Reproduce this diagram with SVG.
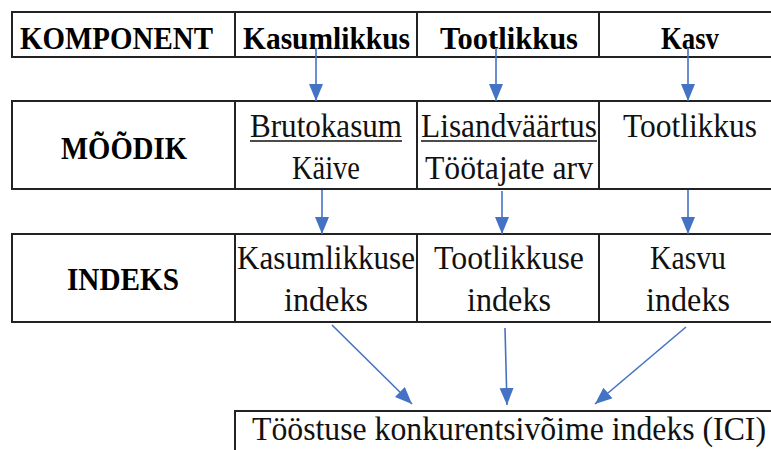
<svg xmlns="http://www.w3.org/2000/svg" width="771" height="450" viewBox="0 0 771 450">
  <style>
    .cell { fill: #ffffff; stroke: #222222; stroke-width: 2; }
    .hb { font-family: 'Liberation Serif', 'Times New Roman', serif; font-weight: 700; font-size: 31px; fill: #000; text-anchor: middle; }
    .tx { font-family: 'Liberation Serif', 'Times New Roman', serif; font-weight: 400; font-size: 34px; fill: #111; text-anchor: middle; }
    .ul { stroke: #111; stroke-width: 1.5; }
    .arr { stroke: #4472C4; stroke-width: 1.6; fill: none; marker-end: url(#ah); }
  </style>
  <defs>
    <marker id="ah" markerUnits="userSpaceOnUse" markerWidth="18" markerHeight="15" refX="17" refY="7" orient="auto">
      <path d="M0,0 L17,7 L0,14 z" fill="#4472C4"/>
    </marker>
  </defs>
  <rect x="0" y="0" width="771" height="450" fill="#ffffff"/>

  <g id="row-komponent">
    <rect class="cell" x="12" y="12" width="223" height="45"/>
    <rect class="cell" x="235" y="12" width="182" height="45"/>
    <rect class="cell" x="417" y="12" width="182" height="45"/>
    <rect class="cell" x="599" y="12" width="190" height="45"/>
    <text class="hb" x="116.5" y="49" textLength="193" lengthAdjust="spacingAndGlyphs">KOMPONENT</text>
    <text class="hb" x="326.5" y="49" textLength="167" lengthAdjust="spacingAndGlyphs">Kasumlikkus</text>
    <text class="hb" x="509" y="49" textLength="138" lengthAdjust="spacingAndGlyphs">Tootlikkus</text>
    <text class="hb" x="690" y="49" textLength="58" lengthAdjust="spacingAndGlyphs">Kasv</text>
  </g>

  <g id="row-moodik">
    <rect class="cell" x="12" y="101" width="223" height="88"/>
    <rect class="cell" x="235" y="101" width="182" height="88"/>
    <rect class="cell" x="417" y="101" width="182" height="88"/>
    <rect class="cell" x="599" y="101" width="190" height="88"/>
    <text class="hb" x="124" y="159" textLength="126" lengthAdjust="spacingAndGlyphs">MÕÕDIK</text>
    <text class="tx" x="326" y="137" textLength="152" lengthAdjust="spacingAndGlyphs">Brutokasum</text>
    <line class="ul" x1="250" y1="141" x2="402" y2="141"/>
    <text class="tx" x="326" y="179" textLength="68" lengthAdjust="spacingAndGlyphs">Käive</text>
    <text class="tx" x="509" y="137" textLength="176" lengthAdjust="spacingAndGlyphs">Lisandväärtus</text>
    <line class="ul" x1="421" y1="141" x2="597" y2="141"/>
    <text class="tx" x="509" y="179" textLength="168" lengthAdjust="spacingAndGlyphs">Töötajate arv</text>
    <text class="tx" x="690" y="137" textLength="134" lengthAdjust="spacingAndGlyphs">Tootlikkus</text>
  </g>

  <g id="row-indeks">
    <rect class="cell" x="12" y="234" width="223" height="88"/>
    <rect class="cell" x="235" y="234" width="182" height="88"/>
    <rect class="cell" x="417" y="234" width="182" height="88"/>
    <rect class="cell" x="599" y="234" width="190" height="88"/>
    <text class="hb" x="123" y="290" textLength="112" lengthAdjust="spacingAndGlyphs">INDEKS</text>
    <text class="tx" x="326" y="269" textLength="178" lengthAdjust="spacingAndGlyphs">Kasumlikkuse</text>
    <text class="tx" x="326" y="311" textLength="84" lengthAdjust="spacingAndGlyphs">indeks</text>
    <text class="tx" x="509" y="269" textLength="150" lengthAdjust="spacingAndGlyphs">Tootlikkuse</text>
    <text class="tx" x="509" y="311" textLength="84" lengthAdjust="spacingAndGlyphs">indeks</text>
    <text class="tx" x="688" y="269" textLength="76" lengthAdjust="spacingAndGlyphs">Kasvu</text>
    <text class="tx" x="688" y="311" textLength="84" lengthAdjust="spacingAndGlyphs">indeks</text>
  </g>

  <g id="node-ici">
    <rect class="cell" x="235" y="411" width="560" height="60"/>
    <text class="tx" x="509" y="440" font-size="30" textLength="514" lengthAdjust="spacingAndGlyphs">Tööstuse konkurentsivõime indeks (ICI)</text>
  </g>

  <g id="connectors">
    <line class="arr" x1="316" y1="48" x2="316" y2="101"/>
    <line class="arr" x1="496" y1="48" x2="496" y2="101"/>
    <line class="arr" x1="688" y1="48" x2="688" y2="101"/>
    <line class="arr" x1="322" y1="190" x2="322" y2="234"/>
    <line class="arr" x1="502" y1="191" x2="502" y2="234"/>
    <line class="arr" x1="688" y1="190" x2="688" y2="234"/>
    <line class="arr" x1="332" y1="325" x2="412" y2="404"/>
    <line class="arr" x1="505" y1="328" x2="507" y2="405"/>
    <line class="arr" x1="686" y1="327" x2="595" y2="404"/>
  </g>
</svg>
